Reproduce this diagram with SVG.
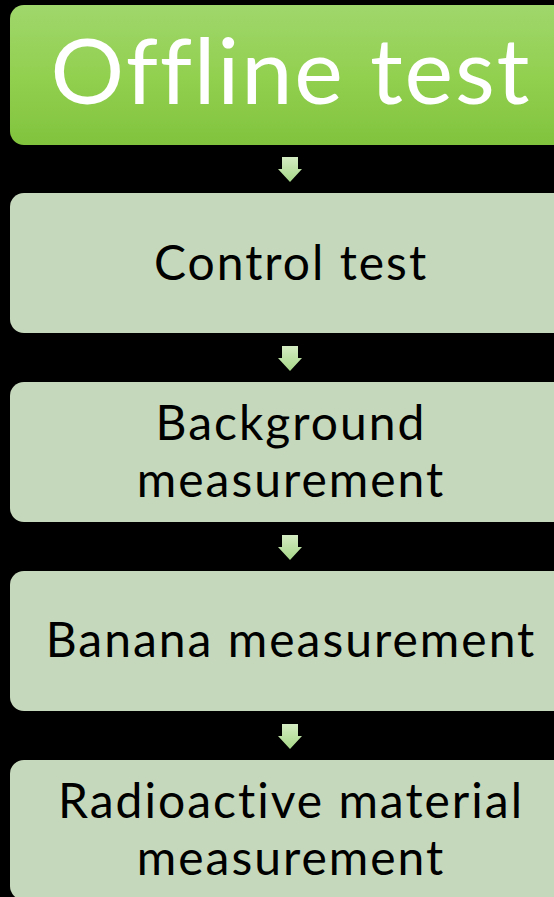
<svg xmlns="http://www.w3.org/2000/svg" width="554" height="897" viewBox="0 0 554 897">
  <style>
    .step { fill: #c6d8bb; }
    .label { font-family: Lato, "Open Sans", sans-serif; font-size: 48px; letter-spacing: 2px; fill: #000; text-anchor: middle; }
    .title { font-family: Lato, "Open Sans", sans-serif; font-size: 92px; letter-spacing: 1.8px; fill: #fff; text-anchor: middle; }
  </style>
  <defs>
    <linearGradient id="headFill" x1="0" y1="0" x2="0" y2="1">
      <stop offset="0" stop-color="#a0d76c"/>
      <stop offset="0.5" stop-color="#92d050"/>
      <stop offset="1" stop-color="#81c33d"/>
    </linearGradient>
    <linearGradient id="arrowFill" x1="0" y1="0" x2="0" y2="1">
      <stop offset="0" stop-color="#d4ecc2"/>
      <stop offset="1" stop-color="#a6d788"/>
    </linearGradient>
    <path id="downArrow" d="M-8,0 H8 V12 H12 L0,25 L-12,12 H-8 Z" fill="url(#arrowFill)"/>
  </defs>

  <rect width="554" height="897" fill="#000"/>

  <g id="connectors">
    <use href="#downArrow" x="290" y="157"/>
    <use href="#downArrow" x="290" y="346"/>
    <use href="#downArrow" x="290" y="535"/>
    <use href="#downArrow" x="290" y="724"/>
  </g>

  <g id="offline-test">
    <rect x="10" y="5" width="580" height="140" rx="14" fill="url(#headFill)"/>
    <text class="title" x="291" y="104">Offline test</text>
  </g>

  <g id="control-test">
    <rect class="step" x="10" y="193" width="580" height="140" rx="14"/>
    <text class="label" x="291" y="280">Control test</text>
  </g>

  <g id="background-measurement">
    <rect class="step" x="10" y="382" width="580" height="140" rx="14"/>
    <text class="label" x="291" y="440">Background</text>
    <text class="label" x="291" y="497">measurement</text>
  </g>

  <g id="banana-measurement">
    <rect class="step" x="10" y="571" width="580" height="140" rx="14"/>
    <text class="label" x="291" y="657">Banana measurement</text>
  </g>

  <g id="radioactive-measurement">
    <rect class="step" x="10" y="760" width="580" height="140" rx="14"/>
    <text class="label" x="291" y="818">Radioactive material</text>
    <text class="label" x="291" y="875">measurement</text>
  </g>
</svg>
